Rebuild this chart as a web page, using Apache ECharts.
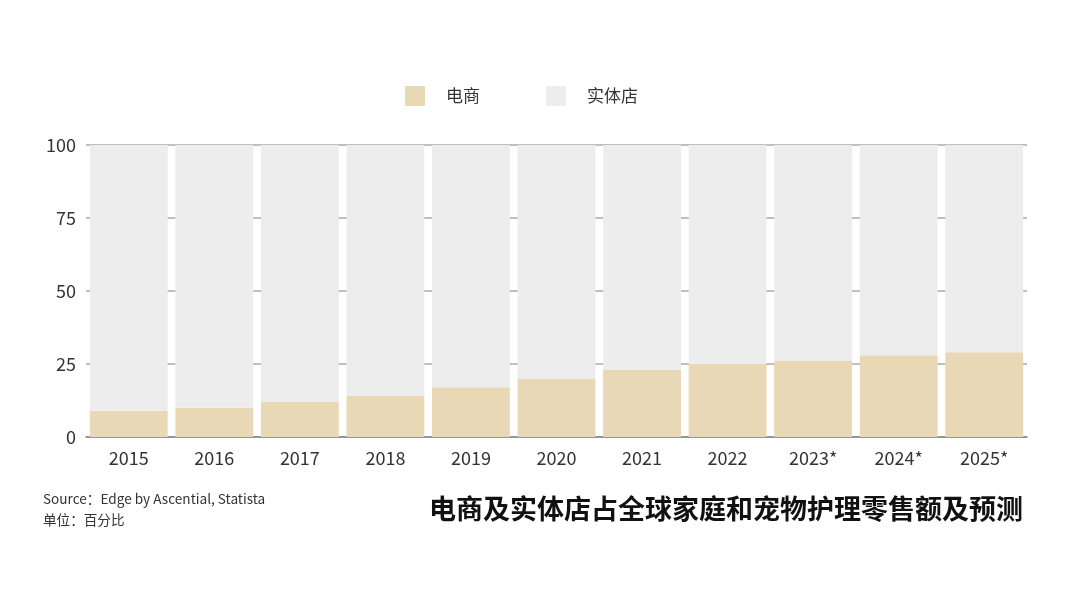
<!DOCTYPE html>
<html><head><meta charset="utf-8">
<script src="https://cdn.jsdelivr.net/npm/echarts@6/dist/echarts.min.js"></script>
<style>html,body{margin:0;padding:0;background:#fff}#c{width:1080px;height:608px}</style>
</head><body><div id="c"></div>
<script>
const categories = ['2015','2016','2017','2018','2019','2020','2021','2022','2023*','2024*','2025*'];
const ecommerce = [9,10,12,14,17,20,23,25,26,28,29];
const offline = [91,90,88,86,83,80,77,75,74,72,71];
const yTicks = [0,25,50,75,100];
const seriesNames = ['电商','实体店'];
const FONT = '"Noto Sans CJK SC","Noto Sans",sans-serif';
const chart = echarts.init(document.getElementById('c'));
chart.setOption({
  backgroundColor:'#ffffff',
  textStyle:{fontFamily:FONT},
  legend:{top:81,left:400,itemWidth:20,itemHeight:20,itemGap:66,
    textStyle:{fontSize:17,color:'#333',fontFamily:FONT,padding:[0,0,0,16]},
    data:seriesNames, icon:'rect'},
  grid:{left:86,right:53,top:145,bottom:171},
  xAxis:{type:'category',data:categories,
    axisLine:{lineStyle:{color:'#888',width:1.5}},axisTick:{show:false},
    axisLabel:{fontSize:18,color:'#333',margin:12,fontFamily:FONT}},
  yAxis:{type:'value',min:0,max:100,interval:25,
    axisLine:{show:false},axisTick:{show:false},
    splitLine:{lineStyle:{color:'#aaa',width:1.5}},
    axisLabel:{fontSize:18,color:'#333',margin:10,fontFamily:FONT}},
  series:[
    {name:seriesNames[0],type:'bar',stack:'a',data:ecommerce,barCategoryGap:'9%',
      itemStyle:{color:'#E9D8B5'}},
    {name:seriesNames[1],type:'bar',stack:'a',data:offline,barCategoryGap:'9%',
      itemStyle:{color:'#EDEDED'}}
  ],
  graphic:[
    {type:'text',left:43,top:492,style:{text:'Source：Edge by Ascential, Statista',fontSize:13.6,fill:'#333',fontFamily:FONT}},
    {type:'text',left:43,top:513,style:{text:'单位：百分比',fontSize:13.6,fill:'#333',fontFamily:FONT}},
    {type:'text',right:57,top:495,style:{text:'电商及实体店占全球家庭和宠物护理零售额及预测',fontSize:27,fontWeight:'bold',fill:'#111',fontFamily:FONT}}
  ]
});
</script></body></html>
